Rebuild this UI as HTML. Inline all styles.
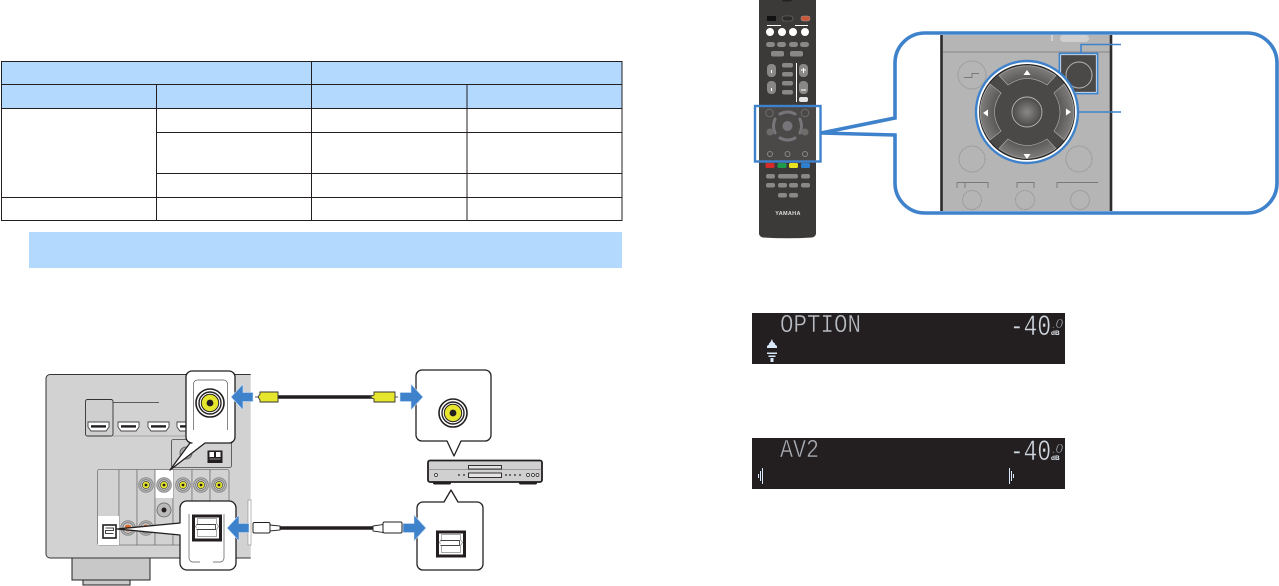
<!DOCTYPE html>
<html><head><meta charset="utf-8"><style>
html,body{margin:0;padding:0;background:#fff;width:1279px;height:586px;overflow:hidden}
svg{display:block}
text{font-family:"Liberation Sans",sans-serif}
.seg{font-family:"Liberation Mono",monospace}
</style></head><body>
<svg width="1279" height="586" viewBox="0 0 1279 586" xmlns="http://www.w3.org/2000/svg">
<defs>
<radialGradient id="gb"><stop offset="0" stop-color="#8a8886"/><stop offset="1" stop-color="#4b4947"/></radialGradient>
<radialGradient id="arc" gradientUnits="userSpaceOnUse" cx="1027" cy="112" r="47"><stop offset=".6" stop-color="#4f4d4b"/><stop offset="1" stop-color="#807e7c"/></radialGradient>
<g id="rca"><circle r="14" fill="#fff" stroke="#231f20" stroke-width="1.6"/><circle r="11" fill="#fff" stroke="#231f20" stroke-width="1.4"/><circle r="8.700" fill="#e6e62e" stroke="#231f20" stroke-width="1"/><circle r="3.400" fill="#231f20"/></g>
<g id="srca"><circle r="7.300" fill="#bbb" stroke="#8a8a8a"/><circle r="5.300" fill="#ccc" stroke="#777" stroke-width=".8"/><circle r="3.600" fill="#e6e62e" stroke="#333" stroke-width=".6"/><circle r="1.400" fill="#231f20"/></g>
<g id="orca"><circle r="7.300" fill="#bbb" stroke="#8a8a8a"/><circle r="5.300" fill="#ccc" stroke="#777" stroke-width=".8"/><circle r="3.400" fill="#d9662a"/></g>
<g id="hd"><path d="M0 0h21v5l-3 4H3L0 5z" fill="#fff" stroke="#444" stroke-width=".9"/><rect x="3" y="3.200" width="15" height="2.400" fill="#231f20"/></g>
<g id="opt"><rect x="0" y="0" width="27" height="24" fill="#fff" stroke="#231f20" stroke-width="3"/><path d="M4 2.500h19v5l2 3-2 3v7H4v-7l-2-3 2-3z" fill="#fff" stroke="#888" stroke-width=".7"/><path d="M3 8.500h19v5H3" fill="#fff" stroke="#444" stroke-width=".9"/></g>
</defs>

<!-- table -->
<rect x="1.500" y="61.500" width="620.500" height="47" fill="#b3d9ff"/>
<g stroke="#231f20" stroke-width="1" fill="none">
<rect x="1.500" y="61.500" width="620.500" height="159"/>
<path d="M1.500 84.500H622M1.500 108.500H622M156.500 132.500H622M156.500 173.500H622M1.500 197.500H622M156.500 84.500V220.500M311.500 61.500V220.500M467 84.500V220.500"/>
</g>
<rect x="29" y="232" width="593" height="36" fill="#b3d9ff"/>

<!-- receiver -->
<rect x="72" y="558" width="78" height="22" fill="#c8c8c8" stroke="#231f20"/>
<rect x="83" y="580" width="47" height="5" fill="#c8c8c8" stroke="#231f20"/>
<path d="M250.700 374.500H50a4 4 0 0 0-4 4V554a4 4 0 0 0 4 4H250.700z" fill="#d2d2d2"/>
<path d="M250.700 374.500H50a4 4 0 0 0-4 4V554a4 4 0 0 0 4 4H250.700" fill="none" stroke="#333" stroke-width="1"/>
<rect x="85.500" y="399.500" width="27.500" height="36.500" rx="2" fill="#cfcfcf" stroke="#333" stroke-width=".9"/>
<path d="M113 402.500h46" stroke="#333" stroke-width=".8"/>
<path d="M113 436H186" stroke="#999" stroke-width=".8"/>
<use href="#hd" x="88" y="422"/><use href="#hd" x="118" y="422"/><use href="#hd" x="148" y="422"/><use href="#hd" x="177" y="422"/>
<rect x="171.500" y="439.500" width="60" height="28" rx="2" fill="#d2d2d2" stroke="#444" stroke-width=".8"/>
<circle cx="186" cy="453" r="6" fill="#aaa" stroke="#666"/>
<rect x="207.500" y="450.500" width="15" height="12.500" fill="#231f20"/><rect x="209.500" y="452" width="4.500" height="5" fill="#fff"/><rect x="216" y="452" width="4.500" height="5" fill="#fff"/><path d="M209.500 459h11" stroke="#888"/>
<!-- panels -->
<g stroke="#777" stroke-width=".8">
<rect x="97.500" y="469.500" width="21.500" height="75.500" rx="2" fill="#d2d2d2"/>
<rect x="119" y="469.500" width="18" height="75.500" fill="#d2d2d2"/>
<rect x="137" y="469.500" width="18" height="75.500" fill="#d2d2d2"/>
<rect x="155" y="469.500" width="18" height="75.500" fill="#d2d2d2"/>
<rect x="173" y="469.500" width="19" height="75.500" fill="#d2d2d2"/>
<rect x="192" y="469.500" width="18" height="75.500" fill="#d2d2d2"/>
<rect x="210" y="469.500" width="19" height="75.500" rx="2" fill="#d2d2d2"/>
</g>
<rect x="98" y="516" width="21" height="29" fill="#fff"/>
<rect x="155.500" y="470" width="17.500" height="28" fill="#fff"/>
<use href="#srca" x="146" y="485"/><use href="#srca" x="164" y="485"/><use href="#srca" x="183" y="485"/><use href="#srca" x="201" y="485"/><use href="#srca" x="219" y="485"/>
<circle cx="164" cy="510" r="7" fill="#bbb" stroke="#777"/><circle cx="164" cy="510" r="2.500" fill="#231f20"/>
<use href="#orca" x="128" y="528"/><use href="#orca" x="146" y="528"/>
<rect x="103" y="525" width="13" height="13" fill="#fff" stroke="#231f20" stroke-width="1.600"/><path d="M105.500 528h8v2.500h-8v3h8" stroke="#444" fill="none"/>
<rect x="248" y="500" width="3" height="45" fill="#fff" stroke="#888" stroke-width=".6"/>

<!-- callouts on receiver -->
<path d="M192 371H229a6 6 0 0 1 6 6V437a6 6 0 0 1-6 6H205L170 470L190 443H192a6 6 0 0 1-6-6V377a6 6 0 0 1 6-6z" fill="#fff" stroke="#231f20" stroke-width="1.300" stroke-linejoin="round"/>
<path d="M193.500 430V384a4 4 0 0 1 4-4h26a4 4 0 0 1 4 4v46" fill="none" stroke="#555" stroke-width=".7"/>
<use href="#rca" x="210" y="403"/>
<path d="M186 501H229a7 7 0 0 1 7 7V563a7 7 0 0 1-7 7H187a7 7 0 0 1-7-7V535L117 529L180 523V508a7 7 0 0 1 6-7z" fill="#fff" stroke="#231f20" stroke-width="1.300" stroke-linejoin="round"/>
<path d="M189 514V558a4 4 0 0 0 4 4h7M224 514V558a4 4 0 0 1-4 4h-7" fill="none" stroke="#555" stroke-width=".7"/>
<use href="#opt" x="193.500" y="516"/>

<!-- right callouts -->
<path d="M422 370H485a6 6 0 0 1 6 6V435a6 6 0 0 1-6 6H461L454 456L447 441H422a6 6 0 0 1-6-6V376a6 6 0 0 1 6-6z" fill="#fff" stroke="#231f20" stroke-width="1.300" stroke-linejoin="round"/>
<use href="#rca" x="453" y="413"/>
<path d="M423 502H444L451 490L458 502H477a6 6 0 0 1 6 6V564a6 6 0 0 1-6 6H423a6 6 0 0 1-6-6V508a6 6 0 0 1 6-6z" fill="#fff" stroke="#231f20" stroke-width="1.300" stroke-linejoin="round"/>
<use href="#opt" x="437.500" y="532"/>

<!-- player -->
<rect x="433" y="481" width="18" height="3.500" rx="1.500" fill="#231f20"/><rect x="519" y="481" width="18" height="3.500" rx="1.500" fill="#231f20"/>
<path d="M430 460.500H540a2 2 0 0 1 2 2V480a2 2 0 0 1-2 2H430a2 2 0 0 1-2-2V462.500a2 2 0 0 1 2-2z" fill="#d0d0d0" stroke="#231f20" stroke-width="1.800"/>
<path d="M428.500 469.500H541.500" stroke="#888" stroke-width=".7"/>
<rect x="468.500" y="465.500" width="33" height="3.500" fill="#e4e4e4" stroke="#231f20" stroke-width=".9"/>
<rect x="468.500" y="473" width="33" height="4.500" fill="#e4e4e4" stroke="#231f20" stroke-width=".9"/>
<g fill="#eee" stroke="#231f20" stroke-width=".7"><circle cx="436" cy="475" r="1.500"/><circle cx="528" cy="475" r="1.500"/><circle cx="533" cy="475" r="1.500"/><circle cx="537.500" cy="475" r="1.500"/></g>
<g fill="#231f20"><circle cx="459" cy="475" r=".9"/><circle cx="464" cy="475" r=".9"/><circle cx="506" cy="475" r=".9"/><circle cx="510" cy="475" r=".9"/><circle cx="515" cy="475" r=".9"/><circle cx="520" cy="475" r=".9"/></g>

<!-- cables -->
<path d="M278 397H374" stroke="#231f20" stroke-width="3.600"/>
<path d="M280 528H373" stroke="#231f20" stroke-width="3.600"/>
<path d="M255 397h3M398 397h-3" stroke="#555"/>
<path d="M258 397l2-3v-2h18v10h-18v-2z" fill="#e6e62e" stroke="#333" stroke-width=".9"/>
<path d="M370 397l4-2v-3h21v10h-21v-3z" fill="#e6e62e" stroke="#333" stroke-width=".9"/>
<rect x="253" y="522.500" width="17" height="10.500" rx="1.500" fill="#fff" stroke="#231f20" stroke-width="1"/>
<path d="M270 525l10 1v4l-10 1z" fill="#fff" stroke="#231f20" stroke-width=".9"/>
<path d="M373 526l10-1.500v8l-10-1.500z" fill="#fff" stroke="#231f20" stroke-width=".9"/>
<rect x="383" y="522" width="19" height="11" rx="1.500" fill="#fff" stroke="#231f20" stroke-width="1"/>

<!-- blue arrows -->
<g fill="#3f82cc" stroke="#cfe2f5" stroke-width=".6">
<path d="M231 397L243 384V392.500H253V401.500H243V410z"/>
<path d="M227 528L239 515V523.500H249V532.500H239V541z"/>
<path d="M423 397L411 384V392.500H400V401.500H411V410z"/>
<path d="M426 528L414 515V523.500H403V532.500H414V541z"/>
</g>

<!-- remote -->
<path d="M759 0H816V234q-1 3-4 3.500q-24 1.500-49 0q-3-.5-4-3.500z" fill="#3c3a38"/>
<path d="M782 0h10l-1 1.500h-8z" fill="#222"/>
<rect x="759" y="105" width="57" height="57" fill="#4b4947"/>
<rect x="767" y="16" width="9" height="5" fill="#111"/><rect x="782" y="16" width="11" height="5" rx="2.500" fill="#2e2c2a" stroke="#777" stroke-width=".6"/><rect x="801" y="16" width="9" height="5" rx="2" fill="#c9573a" stroke="#999" stroke-width=".5"/>
<path d="M767 25.500h14M795 25.500h13" stroke="#fff"/>
<g fill="#fff"><circle cx="770" cy="32" r="4"/><circle cx="782" cy="32" r="4"/><circle cx="793" cy="32" r="4"/><circle cx="805" cy="32" r="4"/></g>
<g fill="#8a8886">
<rect x="766" y="42" width="9" height="5" rx="2.500"/><rect x="777" y="42" width="9" height="5" rx="2.500"/><rect x="789" y="42" width="9" height="5" rx="2.500"/><rect x="800" y="42" width="9" height="5" rx="2.500"/>
<rect x="771" y="51" width="13" height="5.500" rx="2"/><rect x="790" y="51" width="13" height="5.500" rx="2"/>
<rect x="767" y="64" width="9" height="13" rx="4"/><rect x="767" y="81" width="9" height="13" rx="4"/>
<rect x="799" y="64" width="9" height="13" rx="4"/><rect x="799" y="81" width="9" height="13" rx="4"/>
<rect x="782" y="63" width="11" height="4.500" rx="2"/><rect x="782" y="72" width="11" height="4.500" rx="2"/><rect x="782" y="81" width="11" height="4.500" rx="2"/><rect x="782" y="90" width="11" height="4.500" rx="2"/>
</g>
<rect x="799" y="97" width="9" height="5" rx="2" fill="#e4e4e4"/>
<path d="M796.500 63V102" stroke="#fff"/>
<path d="M771.500 70v3M771.500 88v3M801 90h5M801 70h5M803.500 68v5" stroke="#fff"/>
<g fill="none" stroke="#6f6d6b" stroke-width="1">
<circle cx="769.500" cy="113" r="3.800"/><circle cx="805" cy="113" r="3.800"/>
</g>
<g fill="none" stroke="#77757a" stroke-width="3" stroke-linecap="round">
<path d="M780 114q8-4 15 0"/><path d="M780 138q8 4 15 0"/>
<path d="M775 119q-3 7 0 14"/><path d="M800 119q3 7 0 14"/>
</g>
<circle cx="787.500" cy="126" r="5" fill="#77757a"/>
<g fill="#6f6d6b"><circle cx="770" cy="132" r="3.500"/><circle cx="805" cy="132" r="3.500"/></g>
<g fill="#4b4947" stroke="#8a8886" stroke-width="1"><circle cx="770" cy="154" r="2.500"/><circle cx="787.500" cy="154" r="2.500"/><circle cx="805" cy="154" r="2.500"/></g>
<rect x="755" y="106" width="65.500" height="55.500" fill="none" stroke="#3f82cc" stroke-width="2.400"/>
<rect x="765.500" y="163" width="9" height="5" rx="1.500" fill="#d52b2b"/><rect x="777.500" y="163" width="9" height="5" rx="1.500" fill="#1f9a4a"/><rect x="789" y="163" width="9" height="5" rx="1.500" fill="#e8e21f"/><rect x="801" y="163" width="9" height="5" rx="1.500" fill="#2f7fd0"/>
<g fill="#8a8886">
<rect x="766" y="174" width="9" height="4.500" rx="2"/><rect x="778" y="174" width="20" height="4.500" rx="2"/><rect x="801" y="174" width="9" height="4.500" rx="2"/>
<rect x="766" y="183" width="9" height="4.500" rx="2"/><rect x="778" y="183" width="9" height="4.500" rx="2"/><rect x="789" y="183" width="9" height="4.500" rx="2"/><rect x="801" y="183" width="9" height="4.500" rx="2"/>
<rect x="778" y="193" width="9" height="4.500" rx="2"/><rect x="789" y="193" width="9" height="4.500" rx="2"/>
</g>
<text x="788" y="215" font-size="5.500" font-weight="bold" fill="#ddd" text-anchor="middle" letter-spacing=".3">YAMAHA</text>

<!-- big callout -->
<path d="M925 33H1247a30 30 0 0 1 30 30V183a30 30 0 0 1-30 30H925a30 30 0 0 1-30-30V135L821 133L895 118V63a30 30 0 0 1 30-30z" fill="#fff" stroke="#3f82cc" stroke-width="3.600" stroke-linejoin="miter"/>
<rect x="941" y="35" width="170" height="176" fill="#b5b5b5"/>
<path d="M941.500 35V211M1111 35V211" stroke="#2e2c2a" stroke-width="2.600"/>
<path d="M943 52H1109.500" stroke="#888" stroke-width="1"/>
<path d="M1052 35V41" stroke="#eee"/>
<rect x="1060" y="35" width="29" height="7" rx="3.500" fill="#cfcfcf"/>
<g fill="#b5b5b5" stroke="#969696" stroke-width="1" stroke-dasharray="1.500 .6">
<circle cx="972" cy="75" r="14"/><circle cx="972" cy="159" r="13"/><circle cx="1079" cy="159" r="13"/>
<circle cx="972" cy="200" r="9.500"/><circle cx="1025" cy="200" r="9.500"/><circle cx="1080" cy="200" r="9.500"/>
</g>
<path d="M964 77.500h8v-4h7M957 188v-5.500h31V188M965 182.500V188M1017 188v-5.500h17V188M1057 188v-5.500h41" fill="none" stroke="#666" stroke-width=".7"/>
<!-- option button -->
<rect x="1060.500" y="54.500" width="36" height="38" fill="#4b4947" stroke="#fff" stroke-width="1.200"/>
<rect x="1059.500" y="53.500" width="38" height="40" fill="none" stroke="#3f82cc" stroke-width="1.800"/>
<circle cx="1079" cy="75" r="13" fill="#4b4947" stroke="#b5b5b5" stroke-width="1"/>
<path d="M1081 53V44.500H1121" fill="none" stroke="#3f82cc" stroke-width="1.600"/>
<path d="M1079 112H1121" stroke="#3f82cc" stroke-width="1.600"/>
<!-- d-pad -->
<circle cx="1027" cy="112" r="51" fill="#fff" stroke="#3f82cc" stroke-width="2.400"/>
<circle cx="1027" cy="112" r="47.500" fill="#4b4947" stroke="#231f20"/>
<g fill="url(#arc)" stroke="#a5a5a5" stroke-width=".7">
<path d="M999 75.500Q1026 56 1056 75.500L1047 85Q1027 72 1008 85z"/>
<path d="M999 148.500Q1026 168 1056 148.500L1047 139Q1027 152 1008 139z"/>
<path d="M990 84Q970 112 990 140L1001 131Q988 112 1001 93z"/>
<path d="M1064 84Q1084 112 1064 140L1054 131Q1066 112 1054 93z"/>
</g>
<circle cx="1027" cy="112" r="15" fill="url(#gb)" stroke="#b5b5b5" stroke-width=".9"/>
<g fill="#fff"><path d="M1027 70l3.500 5h-7z"/><path d="M1027 159l3.500-5h-7z"/><path d="M983 113l5-3.500v7z"/><path d="M1071 112l-5-3.500v7z"/></g>

<!-- display 1 -->
<rect x="752" y="313" width="313" height="51" fill="#231f20"/>
<text class="seg" x="780" y="332" font-size="26" fill="#b8bcc2" stroke="#231f20" stroke-width=".5" textLength="81" lengthAdjust="spacingAndGlyphs">OPTION</text>
<text class="seg" x="1010" y="335" font-size="30" fill="#cfd6de" stroke="#231f20" stroke-width=".5" textLength="41" lengthAdjust="spacingAndGlyphs">-40</text>
<text x="1052" y="328" font-size="13" font-style="italic" fill="#cfd6de" stroke="#231f20" stroke-width=".5">.0</text>
<text x="1051" y="335" font-size="6.500" font-weight="bold" fill="#e8eef5">dB</text>
<g fill="#d9e9fb"><path d="M772 339l-1.500 3-1.500 1.500v1l-2 1.500v2h10v-2l-2-1.500v-1L773 342z"/><path d="M767 352.500h10v1.500h-10zM768.500 355.500h7v1.500h-7zM770.500 358h3v4h-3z"/></g>
<!-- display 2 -->
<rect x="752" y="438" width="313" height="51" fill="#231f20"/>
<text class="seg" x="780" y="457" font-size="26" fill="#a8acb2" stroke="#231f20" stroke-width=".5" textLength="39" lengthAdjust="spacingAndGlyphs">AV2</text>
<text class="seg" x="1010" y="460" font-size="30" fill="#cfd6de" stroke="#231f20" stroke-width=".5" textLength="41" lengthAdjust="spacingAndGlyphs">-40</text>
<text x="1052" y="453" font-size="13" font-style="italic" fill="#cfd6de" stroke="#231f20" stroke-width=".5">.0</text>
<text x="1051" y="460" font-size="6.500" font-weight="bold" fill="#e8eef5">dB</text>
<g fill="#d9e9fb"><rect x="762" y="468" width="1" height="16"/><rect x="760" y="471" width="1" height="10"/><rect x="758" y="474" width="1" height="4"/><rect x="1009" y="468" width="1" height="16"/><rect x="1011" y="471" width="1" height="10"/><rect x="1013" y="474" width="1" height="4"/></g>
</svg>
</body></html>
